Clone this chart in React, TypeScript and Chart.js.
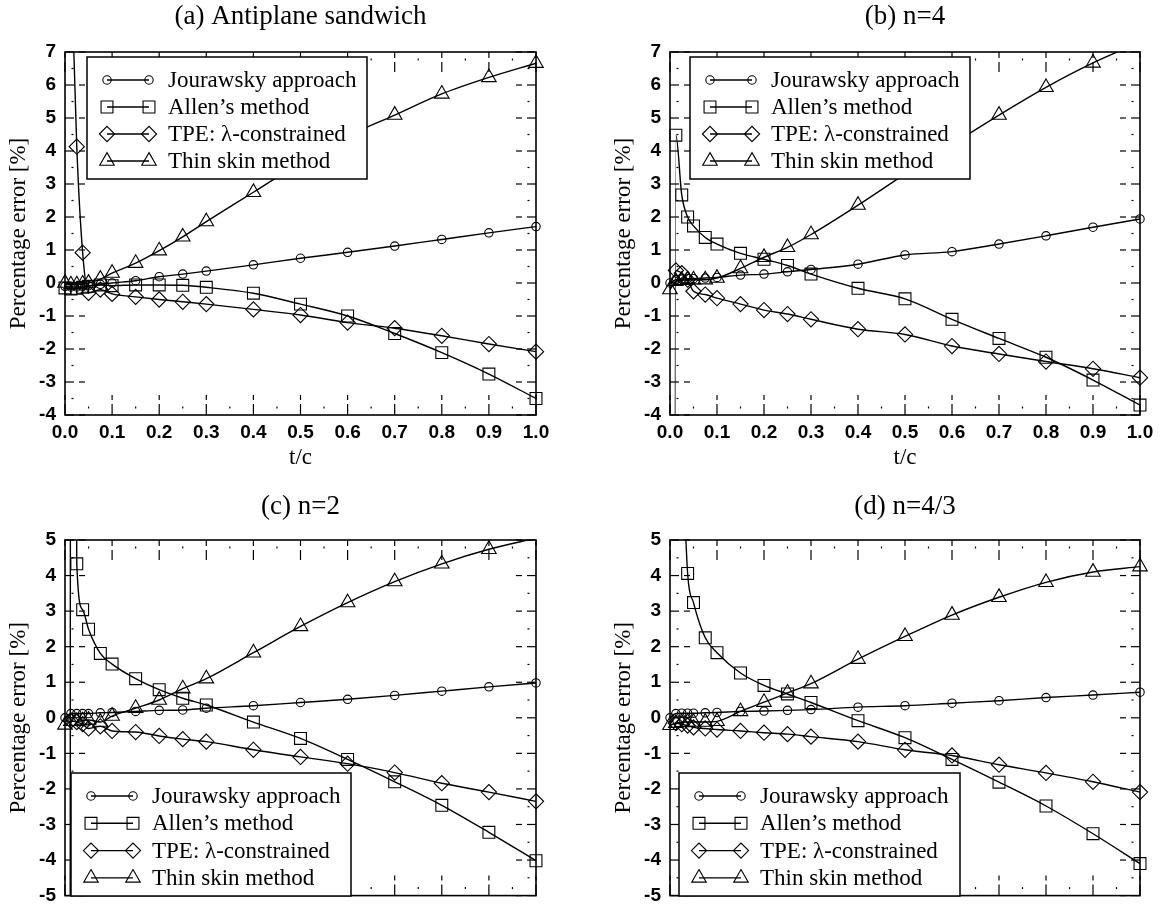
import React, { useEffect, useRef } from 'react';
import { Chart, registerables } from 'chart.js';

Chart.register(...registerables);

// ---------------- data ----------------
const tc = [0, 0.0125, 0.025, 0.0375, 0.05, 0.075, 0.1, 0.15, 0.2, 0.25, 0.3, 0.4, 0.5, 0.6, 0.7, 0.8, 0.9, 1.0];

const seriesNames = ['Jourawsky approach', 'Allen\u2019s method', 'TPE: \u03bb-constrained', 'Thin skin method'];

const panelTitles = ['(a) Antiplane sandwich', '(b) n=4', '(c) n=2', '(d) n=4/3'];

const yRangeTop = [-4, 7];
const yRangeBottom = [-5, 5];

// (a) Antiplane sandwich
const jourA = [-0.1, -0.12, -0.12, -0.1, -0.08, -0.04, 0.0, 0.07, 0.19, 0.27, 0.36, 0.55, 0.75, 0.93, 1.12, 1.32, 1.52, 1.71];
const allenA = [-0.15, -0.18, -0.16, -0.13, -0.1, -0.06, -0.08, -0.06, -0.06, -0.07, -0.13, -0.31, -0.64, -1.0, -1.53, -2.11, -2.76, -3.5];
const tpeA = [null, 10, 4.13, 0.92, -0.3, -0.2, -0.33, -0.42, -0.5, -0.57, -0.64, -0.8, -0.97, -1.2, -1.37, -1.6, -1.85, -2.08];
const thinA = [0.0, -0.05, -0.05, -0.03, 0.0, 0.12, 0.3, 0.6, 0.98, 1.4, 1.86, 2.75, 3.65, 4.45, 5.09, 5.73, 6.23, 6.66];

// (b) n=4
const jourB = [0.0, 0.1, 0.12, 0.13, 0.13, 0.15, 0.17, 0.24, 0.27, 0.34, 0.41, 0.57, 0.85, 0.95, 1.18, 1.43, 1.69, 1.94];
const allenB = [-300, 4.48, 2.67, 2.0, 1.73, 1.38, 1.18, 0.9, 0.72, 0.53, 0.27, -0.16, -0.48, -1.1, -1.68, -2.25, -2.94, -3.7];
const tpeB = [null, 0.38, 0.3, 0.1, -0.25, -0.35, -0.46, -0.64, -0.82, -0.94, -1.1, -1.4, -1.56, -1.91, -2.15, -2.38, -2.6, -2.87];
const thinB = [-0.2, 0.05, 0.08, 0.1, 0.1, 0.1, 0.15, 0.44, 0.78, 1.08, 1.47, 2.36, 3.3, 4.2, 5.09, 5.93, 6.67, 7.3];

// (c) n=2
const jourC = [0.0, 0.12, 0.12, 0.12, 0.12, 0.14, 0.15, 0.18, 0.21, 0.22, 0.27, 0.34, 0.43, 0.52, 0.63, 0.75, 0.87, 0.98];
const allenC = [-400, 40, 4.33, 3.04, 2.49, 1.81, 1.51, 1.1, 0.79, 0.55, 0.36, -0.12, -0.58, -1.17, -1.8, -2.46, -3.22, -4.02];
const tpeC = [null, -0.08, -0.12, -0.18, -0.3, -0.24, -0.37, -0.4, -0.51, -0.6, -0.67, -0.9, -1.1, -1.29, -1.54, -1.84, -2.09, -2.35];
const thinC = [-0.2, -0.1, -0.1, -0.08, -0.06, -0.12, 0.05, 0.27, 0.5, 0.82, 1.1, 1.83, 2.57, 3.24, 3.83, 4.33, 4.74, 5.05];

// (d) n=4/3
const jourD = [0.0, 0.12, 0.13, 0.13, 0.13, 0.14, 0.15, 0.18, 0.19, 0.21, 0.23, 0.3, 0.34, 0.41, 0.48, 0.57, 0.64, 0.72];
const allenD = [null, null, 8, 4.06, 3.24, 2.25, 1.83, 1.26, 0.91, 0.67, 0.43, -0.08, -0.56, -1.17, -1.81, -2.48, -3.26, -4.1];
const tpeD = [null, -0.15, -0.18, -0.22, -0.27, -0.3, -0.33, -0.37, -0.42, -0.46, -0.53, -0.67, -0.9, -1.06, -1.32, -1.55, -1.8, -2.09];
const thinD = [-0.21, -0.15, -0.13, -0.12, -0.12, -0.12, -0.1, 0.18, 0.44, 0.7, 0.96, 1.65, 2.29, 2.89, 3.39, 3.81, 4.1, 4.25];

// ---------------- styles ----------------
const SERIF = '"Liberation Serif", "Times New Roman", Times, serif';
const SANS = '"Liberation Sans", Arial, Helvetica, sans-serif';
const markers = [
  { style: 'circle', r: 4.2 },
  { style: 'rect', r: 8.4 },
  { style: 'rectRot', r: 7.6 },
  { style: 'triangle', r: 8.4 },
];

type Legend = { x: number; y: number; w: number; h: number; row0: number; gap: number };
type Panel = {
  title: string;
  series: (number | null)[][];
  yMin: number; yMax: number;
  left: number; top: number; width: number; height: number;
  padRight: number; titlePadTop: number; titlePadBottom: number;
  xHeight: number; showX: boolean;
  legend: Legend;
};

const panels: Panel[] = [
  {
    title: panelTitles[0], series: [jourA, allenA, tpeA, thinA], yMin: yRangeTop[0], yMax: yRangeTop[1],
    left: 0, top: 0, width: 583, height: 475, padRight: 47, titlePadTop: 1, titlePadBottom: 18.6,
    xHeight: 60, showX: true, legend: { x: 87, y: 57, w: 280, h: 122, row0: 80, gap: 27 },
  },
  {
    title: panelTitles[1], series: [jourB, allenB, tpeB, thinB], yMin: yRangeTop[0], yMax: yRangeTop[1],
    left: 605, top: 0, width: 561, height: 475, padRight: 26, titlePadTop: 1, titlePadBottom: 18.6,
    xHeight: 60, showX: true, legend: { x: 85, y: 57, w: 280, h: 122, row0: 80, gap: 27 },
  },
  {
    title: panelTitles[2], series: [jourC, allenC, tpeC, thinC], yMin: yRangeBottom[0], yMax: yRangeBottom[1],
    left: 0, top: 470, width: 583, height: 446, padRight: 47, titlePadTop: 21, titlePadBottom: 16.6,
    xHeight: 13, showX: false, legend: { x: 71, y: 303, w: 280, h: 123, row0: 326, gap: 27.3 },
  },
  {
    title: panelTitles[3], series: [jourD, allenD, tpeD, thinD], yMin: yRangeBottom[0], yMax: yRangeBottom[1],
    left: 605, top: 470, width: 561, height: 446, padRight: 26, titlePadTop: 21, titlePadBottom: 16.6,
    xHeight: 13, showX: false, legend: { x: 74, y: 303, w: 281, h: 123, row0: 326, gap: 27.3 },
  },
];

function drawMarker(ctx: CanvasRenderingContext2D, style: string, x: number, y: number, r: number) {
  ctx.beginPath();
  if (style === 'circle') {
    ctx.arc(x, y, r, 0, Math.PI * 2);
  } else if (style === 'rect') {
    const s = Math.SQRT1_2 * r;
    ctx.rect(x - s, y - s, 2 * s, 2 * s);
  } else if (style === 'rectRot') {
    ctx.moveTo(x - r, y);
    ctx.lineTo(x, y - r);
    ctx.lineTo(x + r, y);
    ctx.lineTo(x, y + r);
    ctx.closePath();
  } else {
    ctx.moveTo(x, y - r);
    ctx.lineTo(x + 0.866 * r, y + r / 2);
    ctx.lineTo(x - 0.866 * r, y + r / 2);
    ctx.closePath();
  }
  ctx.stroke();
}

const gnuTicks = {
  id: 'gnuTicks',
  beforeDatasetsDraw(chart: any) {
    const { ctx, chartArea: a } = chart;
    const xs = chart.scales.x;
    const ys = chart.scales.y;
    ctx.save();
    ctx.strokeStyle = '#000';
    ctx.lineWidth = 1.2;
    const seg = (x1: number, y1: number, x2: number, y2: number) => {
      ctx.beginPath(); ctx.moveTo(x1, y1); ctx.lineTo(x2, y2); ctx.stroke();
    };
    const xv = xs.ticks.map((t: any) => t.value);
    for (let i = 0; i < xv.length; i++) {
      const px = xs.getPixelForValue(xv[i]);
      seg(px, a.bottom, px, a.bottom - 11); seg(px, a.bottom - 15, px, a.bottom - 20);
      seg(px, a.top, px, a.top + 6); seg(px, a.top + 10, px, a.top + 20);
      if (i < xv.length - 1) {
        const m = xs.getPixelForValue((xv[i] + xv[i + 1]) / 2);
        seg(m, a.bottom - 6.5, m, a.bottom - 8.5);
        seg(m, a.top + 6.5, m, a.top + 8.5);
      }
    }
    const yv = ys.ticks.map((t: any) => t.value);
    for (let i = 0; i < yv.length; i++) {
      const py = ys.getPixelForValue(yv[i]);
      seg(a.left, py, a.left + 9, py); seg(a.left + 14, py, a.left + 20, py);
      seg(a.right, py, a.right - 9, py); seg(a.right - 14, py, a.right - 20, py);
      if (i < yv.length - 1) {
        const m = ys.getPixelForValue((yv[i] + yv[i + 1]) / 2);
        seg(a.left + 6.5, m, a.left + 8.5, m);
        seg(a.right - 6.5, m, a.right - 8.5, m);
      }
    }
    ctx.restore();
  },
  afterDatasetsDraw(chart: any) {
    const { ctx, chartArea: a } = chart;
    ctx.save();
    ctx.strokeStyle = '#000';
    ctx.lineWidth = 1.6;
    ctx.strokeRect(a.left, a.top, a.right - a.left, a.bottom - a.top);
    ctx.restore();
  },
};

const boxLegend = {
  id: 'boxLegend',
  afterDraw(chart: any, _args: any, opts: any) {
    const { ctx } = chart;
    const { x, y, w, h, row0, gap } = opts;
    ctx.save();
    ctx.fillStyle = '#fff';
    ctx.fillRect(x, y, w, h);
    ctx.strokeStyle = '#000';
    ctx.lineWidth = 1.5;
    ctx.strokeRect(x, y, w, h);
    ctx.font = `23px ${SERIF}`;
    ctx.textBaseline = 'alphabetic';
    ctx.textAlign = 'left';
    seriesNames.forEach((name, i) => {
      const ry = row0 + i * gap;
      ctx.strokeStyle = '#000';
      ctx.lineWidth = 1.4;
      ctx.beginPath(); ctx.moveTo(x + 20, ry); ctx.lineTo(x + 62, ry); ctx.stroke();
      ctx.lineWidth = 1.1;
      drawMarker(ctx, markers[i].style, x + 20, ry, markers[i].r);
      drawMarker(ctx, markers[i].style, x + 62, ry, markers[i].r);
      ctx.fillStyle = '#000';
      ctx.fillText(name, x + 81, ry + 7);
    });
    ctx.restore();
  },
};

function PanelChart({ p }: { p: Panel }) {
  const ref = useRef<HTMLCanvasElement>(null);
  useEffect(() => {
    const canvas = ref.current;
    if (!canvas) return;
    const lines: any[] = [];
    const points: any[] = [];
    p.series.forEach((vals, i) => {
      const data = tc.map((x, k) => ({ x, y: vals[k] }));
      lines.push({
        data,
        borderColor: '#000',
        borderWidth: 1.4,
        pointRadius: 0,
        pointHoverRadius: 0,
        cubicInterpolationMode: 'monotone',
        capBezierPoints: false,
        fill: false,
        spanGaps: false,
        clip: 0,
      });
      const r = markers[i].r;
      points.push({
        data,
        showLine: false,
        pointStyle: markers[i].style,
        pointRadius: (c: any) => {
          const v = c.raw ? c.raw.y : null;
          return v == null || v < p.yMin || v > p.yMax ? 0 : r;
        },
        pointHoverRadius: 0,
        pointBorderColor: '#000',
        pointBackgroundColor: 'rgba(0,0,0,0)',
        pointBorderWidth: 1.1,
        clip: false,
      });
    });
    const tickFont = { family: SANS, size: 19, weight: 'bold' as const };
    const titleFont = { family: SERIF, size: 23, weight: 'normal' as const };
    const chart = new Chart(canvas, {
      type: 'line',
      data: { datasets: [...lines, ...points] },
      plugins: [gnuTicks, boxLegend],
      options: {
        responsive: false,
        maintainAspectRatio: false,
        animation: false,
        events: [],
        layout: { padding: { left: 0, right: p.padRight, top: 0, bottom: 0 } },
        elements: { line: { capBezierPoints: false } },
        plugins: {
          legend: { display: false },
          tooltip: { enabled: false },
          title: {
            display: true,
            text: p.title,
            fullSize: false,
            color: '#000',
            font: { family: SERIF, size: 27, weight: 'normal' },
            padding: { top: p.titlePadTop, bottom: p.titlePadBottom },
          },
          boxLegend: p.legend,
        } as any,
        scales: {
          x: {
            type: 'linear',
            min: 0,
            max: 1,
            grid: { display: false, drawTicks: false },
            border: { display: false },
            ticks: {
              display: p.showX,
              stepSize: 0.1,
              autoSkip: false,
              maxRotation: 0,
              padding: 6,
              color: '#000',
              font: tickFont,
              callback: (v: any) => Number(v).toFixed(1),
            },
            title: {
              display: p.showX,
              text: 't/c',
              color: '#000',
              font: titleFont,
              padding: { top: 0, bottom: 3 },
            },
            afterFit: (s: any) => { s.height = p.xHeight; },
          },
          y: {
            type: 'linear',
            min: p.yMin,
            max: p.yMax,
            grid: { display: false, drawTicks: false },
            border: { display: false },
            ticks: {
              stepSize: 1,
              padding: 9,
              color: '#000',
              font: tickFont,
              callback: (v: any) => String(v),
            },
            title: {
              display: true,
              text: 'Percentage error [%]',
              color: '#000',
              font: titleFont,
              padding: { top: 5, bottom: 0 },
            },
            afterFit: (s: any) => { s.width = 65; },
          },
        },
      } as any,
    });
    return () => chart.destroy();
  }, [p]);
  return (
    <canvas
      ref={ref}
      width={p.width}
      height={p.height}
      style={{ position: 'absolute', left: p.left, top: p.top, width: p.width, height: p.height }}
    />
  );
}

export default function App() {
  useEffect(() => {
    document.body.style.margin = '0';
    document.body.style.overflow = 'hidden';
  }, []);
  return (
    <div style={{ position: 'relative', width: 1166, height: 913, background: '#fff', overflow: 'hidden' }}>
      {panels.map((p, i) => (
        <PanelChart key={i} p={p} />
      ))}
    </div>
  );
}
